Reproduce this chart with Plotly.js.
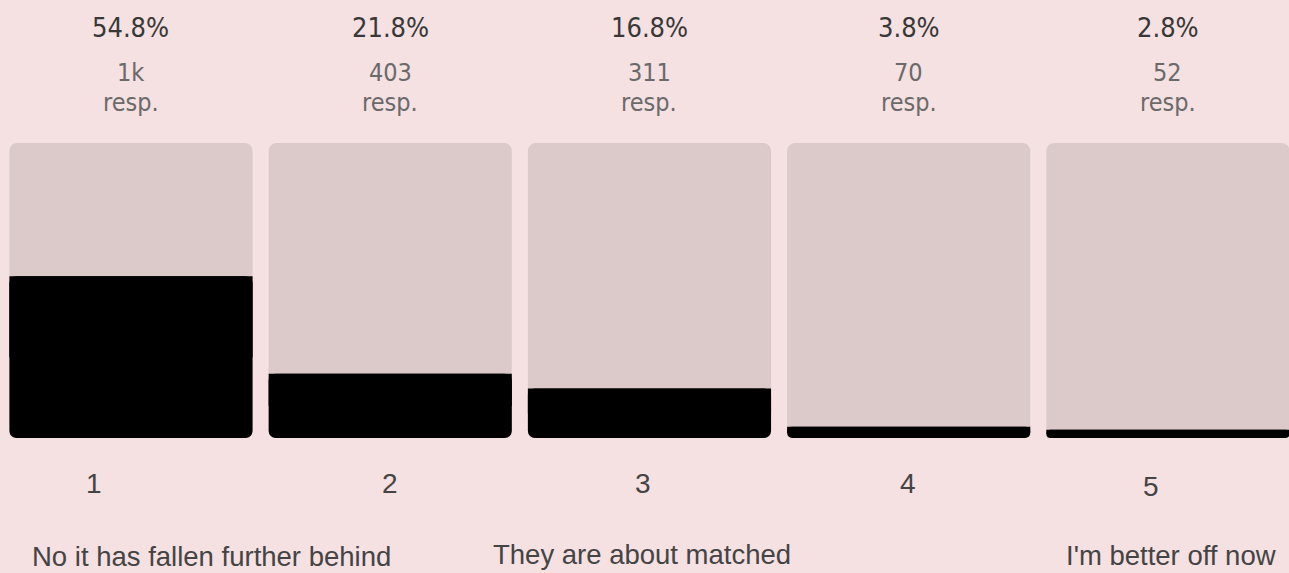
<!DOCTYPE html>
<html>
<head>
<meta charset="utf-8">
<script src="https://cdn.plot.ly/plotly-3.0.1.min.js"></script>
<style>
html,body{margin:0;padding:0;background:#f5e0e2;}
#chart{width:1289px;height:573px;}
</style>
</head>
<body>
<div id="chart"></div>
<script>
var categories = ["1", "2", "3", "4", "5"];
var percents = [54.8, 21.8, 16.8, 3.8, 2.8];
var counts = ["1k", "403", "311", "70", "52"];
var fullScale = 100;
var scaleLabels = ["No it has fallen further behind", "They are about matched", "I'm better off now"];

var xs = categories.map(function(c, i){ return i; });
var FONT = '"Liberation Sans", Arial, sans-serif';
var NARROW = '"Liberation Sans Narrow", "Arial Narrow", "DejaVu Sans Condensed", sans-serif';
var BW = 0.938;

var traces = [
  { type: 'bar', x: xs, y: xs.map(function(){ return fullScale; }), base: xs.map(function(){ return 0; }),
    marker: { color: '#dccacb', cornerradius: 8, line: { width: 0 } }, hoverinfo: 'skip', width: BW },
  { type: 'bar', x: xs, y: percents, base: xs.map(function(){ return 0; }),
    marker: { color: '#000000', cornerradius: 7, line: { width: 0 } }, hoverinfo: 'skip', width: BW },
  { type: 'bar', x: xs, y: percents.map(function(p){ return p / 2; }), base: percents.map(function(p){ return p / 2; }),
    marker: { color: '#000000', line: { width: 0 } }, hoverinfo: 'skip', width: BW }
];

function py(p){ return (438 - p) / 295; }

var annotations = [];
percents.forEach(function(p, i){
  annotations.push({ x: i, y: py(27.6), xref: 'x', yref: 'paper', text: p.toFixed(1) + '%', showarrow: false,
    font: { family: NARROW, size: 27, color: '#383838' }, xanchor: 'center', yanchor: 'middle' });
  annotations.push({ x: i, y: py(72.5), xref: 'x', yref: 'paper', text: counts[i], showarrow: false,
    font: { family: NARROW, size: 25, color: '#6a6a6a' }, xanchor: 'center', yanchor: 'middle' });
  annotations.push({ x: i, y: py(102), xref: 'x', yref: 'paper', text: 'resp.', showarrow: false,
    font: { family: NARROW, size: 25, color: '#6a6a6a' }, xanchor: 'center', yanchor: 'middle' });
});
var numX = [-0.1446, 0.999, 1.975, 2.999, 3.934];
var numY = [483.3, 483.3, 483.3, 483.8, 486.8];
categories.forEach(function(c, i){
  annotations.push({ x: numX[i], y: py(numY[i]), xref: 'x', yref: 'paper', text: c, showarrow: false,
    font: { family: FONT, size: 28, color: '#444444' }, xanchor: 'center', yanchor: 'middle' });
});
var labX = [0.309, 1.970, 4.013];
var labY = [556.5, 554.8, 555];
scaleLabels.forEach(function(t, i){
  annotations.push({ x: labX[i], y: py(labY[i]), xref: 'x', yref: 'paper', text: t, showarrow: false,
    font: { family: FONT, size: 27.5, color: '#444444' }, xanchor: 'center', yanchor: 'middle' });
});

var layout = {
  width: 1289, height: 573,
  paper_bgcolor: '#f5e0e2', plot_bgcolor: '#f5e0e2',
  margin: { l: 0, r: 0, t: 143, b: 135, pad: 0 },
  barmode: 'overlay',
  showlegend: false,
  xaxis: { range: [-0.5053, 4.467], visible: false, fixedrange: true },
  yaxis: { range: [0, fullScale], visible: false, fixedrange: true },
  annotations: annotations
};

Plotly.newPlot('chart', traces, layout, { displayModeBar: false, staticPlot: true });
</script>
</body>
</html>
